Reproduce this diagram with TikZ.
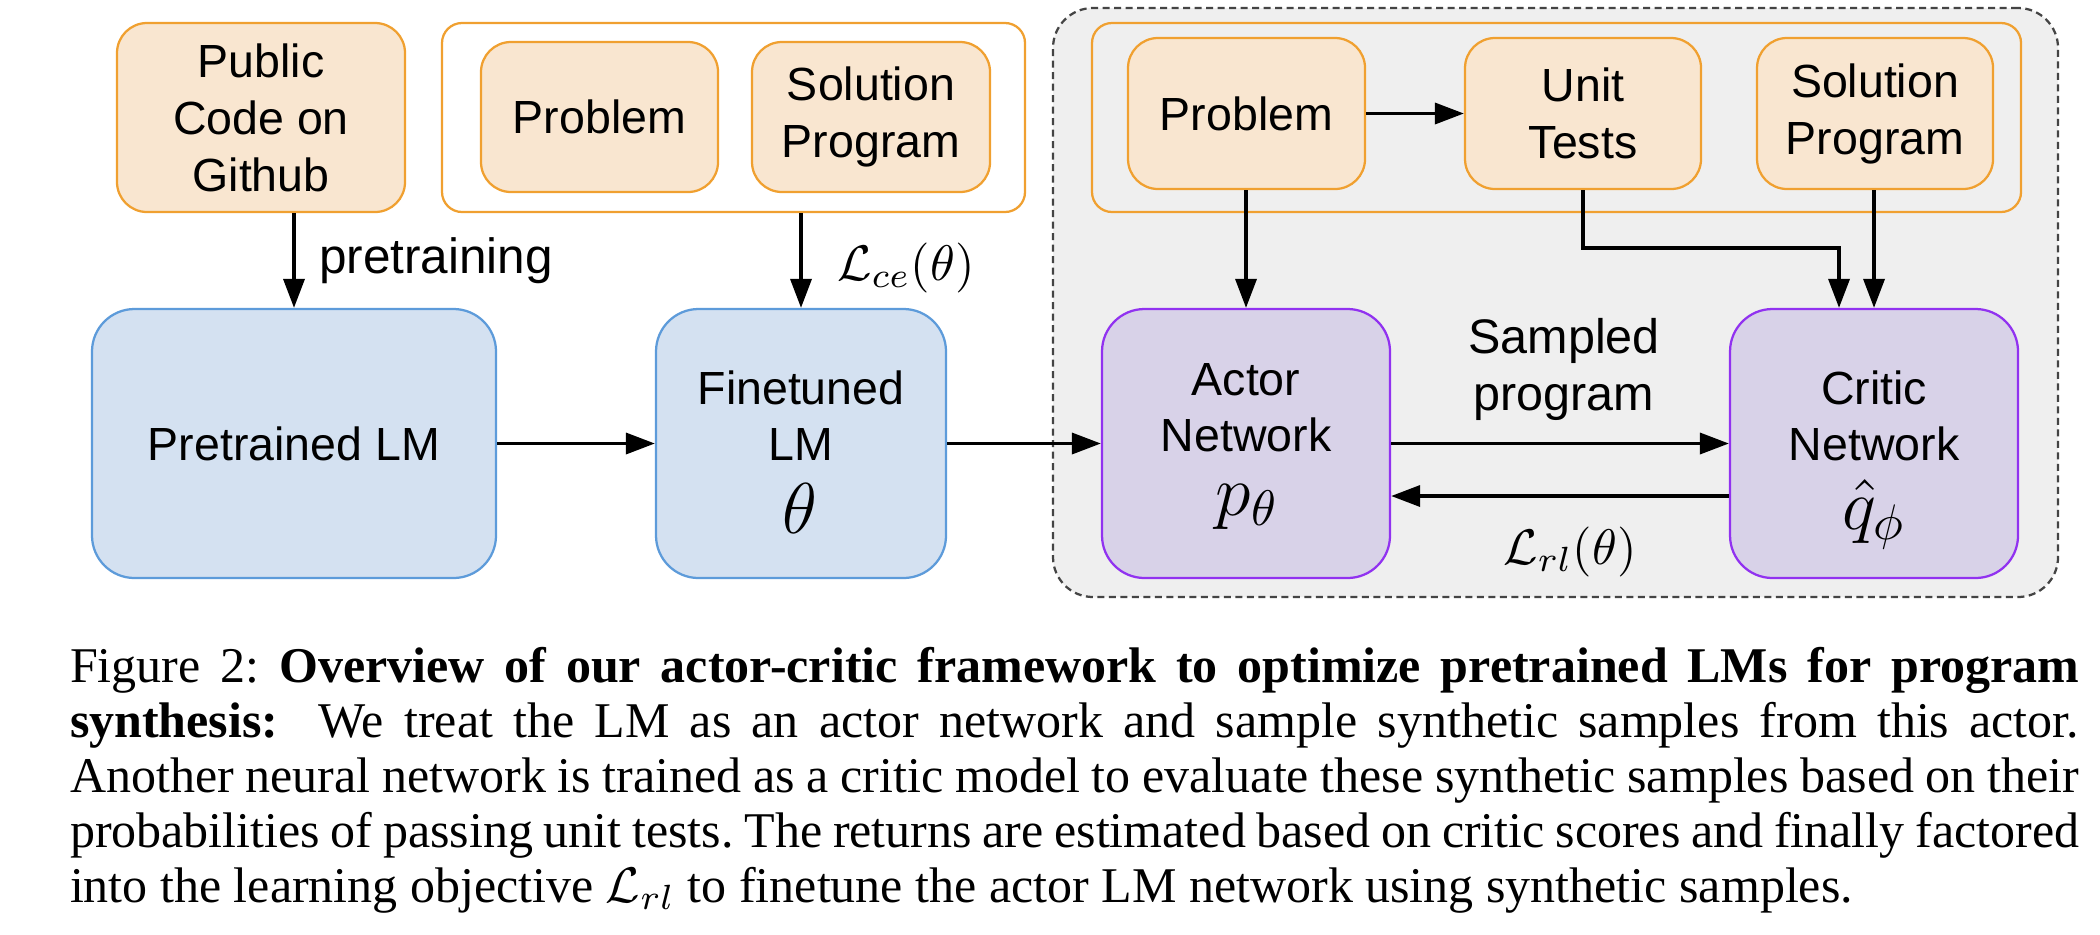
\documentclass[tikz,border=0pt]{standalone}
\usepackage[no-math]{fontspec}
\setmainfont{Liberation Serif}
\newfontfamily\diagfont{Liberation Sans}
\usetikzlibrary{arrows.meta}
\definecolor{orfill}{HTML}{F9E6D0}
\definecolor{orline}{HTML}{F0A030}
\definecolor{blfill}{HTML}{D4E1F1}
\definecolor{blline}{HTML}{5D9BDA}
\definecolor{pufill}{HTML}{D8D2E8}
\definecolor{puline}{HTML}{9132F0}
\definecolor{bgfill}{HTML}{EFEFEF}
\definecolor{dashc}{HTML}{444444}
\begin{document}
\begin{tikzpicture}[x=0.2pt,y=-0.2pt,
  box/.style={draw, line width=0.45pt, inner sep=0pt, align=center,
    font=\diagfont\fontsize{9.3}{11.4}\selectfont},
  orbox/.style={box, fill=orfill, draw=orline, rounded corners=6pt},
  bluebox/.style={box, fill=blfill, draw=blline, rounded corners=8.5pt},
  purbox/.style={box, fill=pufill, draw=puline, rounded corners=8.5pt},
  grpbox/.style={draw=orline, line width=0.45pt, rounded corners=4pt, inner sep=0pt},
  arr/.style={-{Triangle[length=5.8pt,width=4.2pt]}, line width=0.7pt},
  boxtext/.style={inner sep=0pt, align=center, anchor=base,
    font=\diagfont\fontsize{9.3}{11.2}\selectfont},
  mathtext/.style={inner sep=0pt, anchor=base, font=\fontsize{13.6}{16}\selectfont},
  lbl/.style={inner sep=0pt, align=center, font=\diagfont\fontsize{9.7}{11.4}\selectfont},
  mlbl/.style={inner sep=0pt, font=\fontsize{10.4}{12}\selectfont}
]
\fill[white] (0,0) rectangle (2100,934);
\useasboundingbox (0,0) rectangle (2100,934);

% grey dashed region
\node[draw=dashc, fill=bgfill, dash pattern=on 1.4pt off 0.9pt, line width=0.45pt,
  rounded corners=8pt, minimum width=201pt, minimum height=117.8pt, inner sep=0pt]
  (bg) at (1555.5,302.5) {};

% left inputs
\node[orbox, minimum width=57.6pt, minimum height=37.8pt] (pub) at (261,117.5) {Public\\Code on\\Github};
\node[grpbox, fill=white, minimum width=116.6pt, minimum height=37.8pt] (grp1) at (733.5,117.5) {};
\node[orbox, minimum width=47.4pt, minimum height=30pt] (prob1) at (599.5,117) {Problem};
\node[orbox, minimum width=47.6pt, minimum height=30pt] (sol1) at (871,117) {Solution\\Program};

% LMs
\node[bluebox, minimum width=80.8pt, minimum height=53.8pt] (pre) at (294,443.5) {Pretrained LM};
\node[bluebox, minimum width=58pt, minimum height=53.8pt] (fin) at (801,443.5) {};
\node[boxtext] (fintxt) at (801,460) {Finetuned\\LM};
\node[mathtext] (finth) at (800,533) {$\theta$};

% right inputs
\node[grpbox, minimum width=185.8pt, minimum height=37.8pt] (grp2) at (1556.5,117.5) {};
\node[orbox, minimum width=47.4pt, minimum height=30.2pt] (prob2) at (1246.5,113.5) {Problem};
\node[orbox, minimum width=47.2pt, minimum height=30.2pt] (ut) at (1583,113.5) {Unit\\Tests};
\node[orbox, minimum width=47.2pt, minimum height=30.2pt] (sol2) at (1875,113.5) {Solution\\Program};

% actor / critic
\node[purbox, minimum width=57.6pt, minimum height=53.8pt] (actor) at (1246,443.5) {};
\node[boxtext] (acttxt) at (1246,451) {Actor\\Network};
\node[mathtext] (actp) at (1247,515) {$p_\theta$};
\node[purbox, minimum width=57.6pt, minimum height=53.8pt] (critic) at (1874,443.5) {};
\node[boxtext] (crittxt) at (1874,460) {Critic\\Network};
\node[mathtext] (critq) at (1874,529) {$\hat{q}_\phi$};

% connectors
\draw[arr] (pub.south -| pre.north) -- (pre.north);
\node[lbl, anchor=base west, font=\diagfont\fontsize{9.9}{11.4}\selectfont] (pretr) at (318,273) {pretraining};
\draw[arr] (grp1.south -| fin.north) -- (fin.north);
\node[mlbl, anchor=west] (lce) at (836,267.5) {$\mathcal{L}_{ce}(\theta)$};
\draw[arr] (pre.east) -- (fin.west);
\draw[arr] (fin.east) -- (actor.west);
\draw[arr] (prob2.east) -- (ut.west);
\draw[arr] (prob2.south -| actor.north) -- (actor.north);
\coordinate (utmid) at (1700,248);
\draw[arr] (ut.south) |- (utmid) -| ([xshift=-7pt]critic.north);
\draw[arr] (sol2.south -| critic.north) -- (critic.north);
\draw[arr] (actor.east) -- (critic.west);
\node[lbl, anchor=base] (samp) at (1564,410) {Sampled\\program};
\draw[arr] ([yshift=-10.5pt]critic.west) -- ([yshift=-10.5pt]actor.east);
\node[mlbl] (lrl) at (1570,551.5) {$\mathcal{L}_{rl}(\theta)$};

% caption
\node[anchor=base west, text width=401.8pt, align=justify, inner sep=0pt,
  font=\fontsize{10}{11}\selectfont] (cap) at (69,682)
  {\frenchspacing\hyphenpenalty=10000\exhyphenpenalty=10000
  Figure 2: \textbf{Overview of our actor-critic framework to optimize pretrained LMs for program}\linebreak
  \textbf{synthesis:}\ \ We treat the LM as an actor network and sample synthetic samples from this actor.\linebreak
  Another neural network is trained as a critic model to evaluate these synthetic samples based on their\linebreak
  probabilities of passing unit tests. The returns are estimated based on critic scores and finally factored\linebreak
  into the learning objective $\mathcal{L}_{rl}$ to finetune the actor LM network using synthetic samples.};
\end{tikzpicture}
\end{document}
